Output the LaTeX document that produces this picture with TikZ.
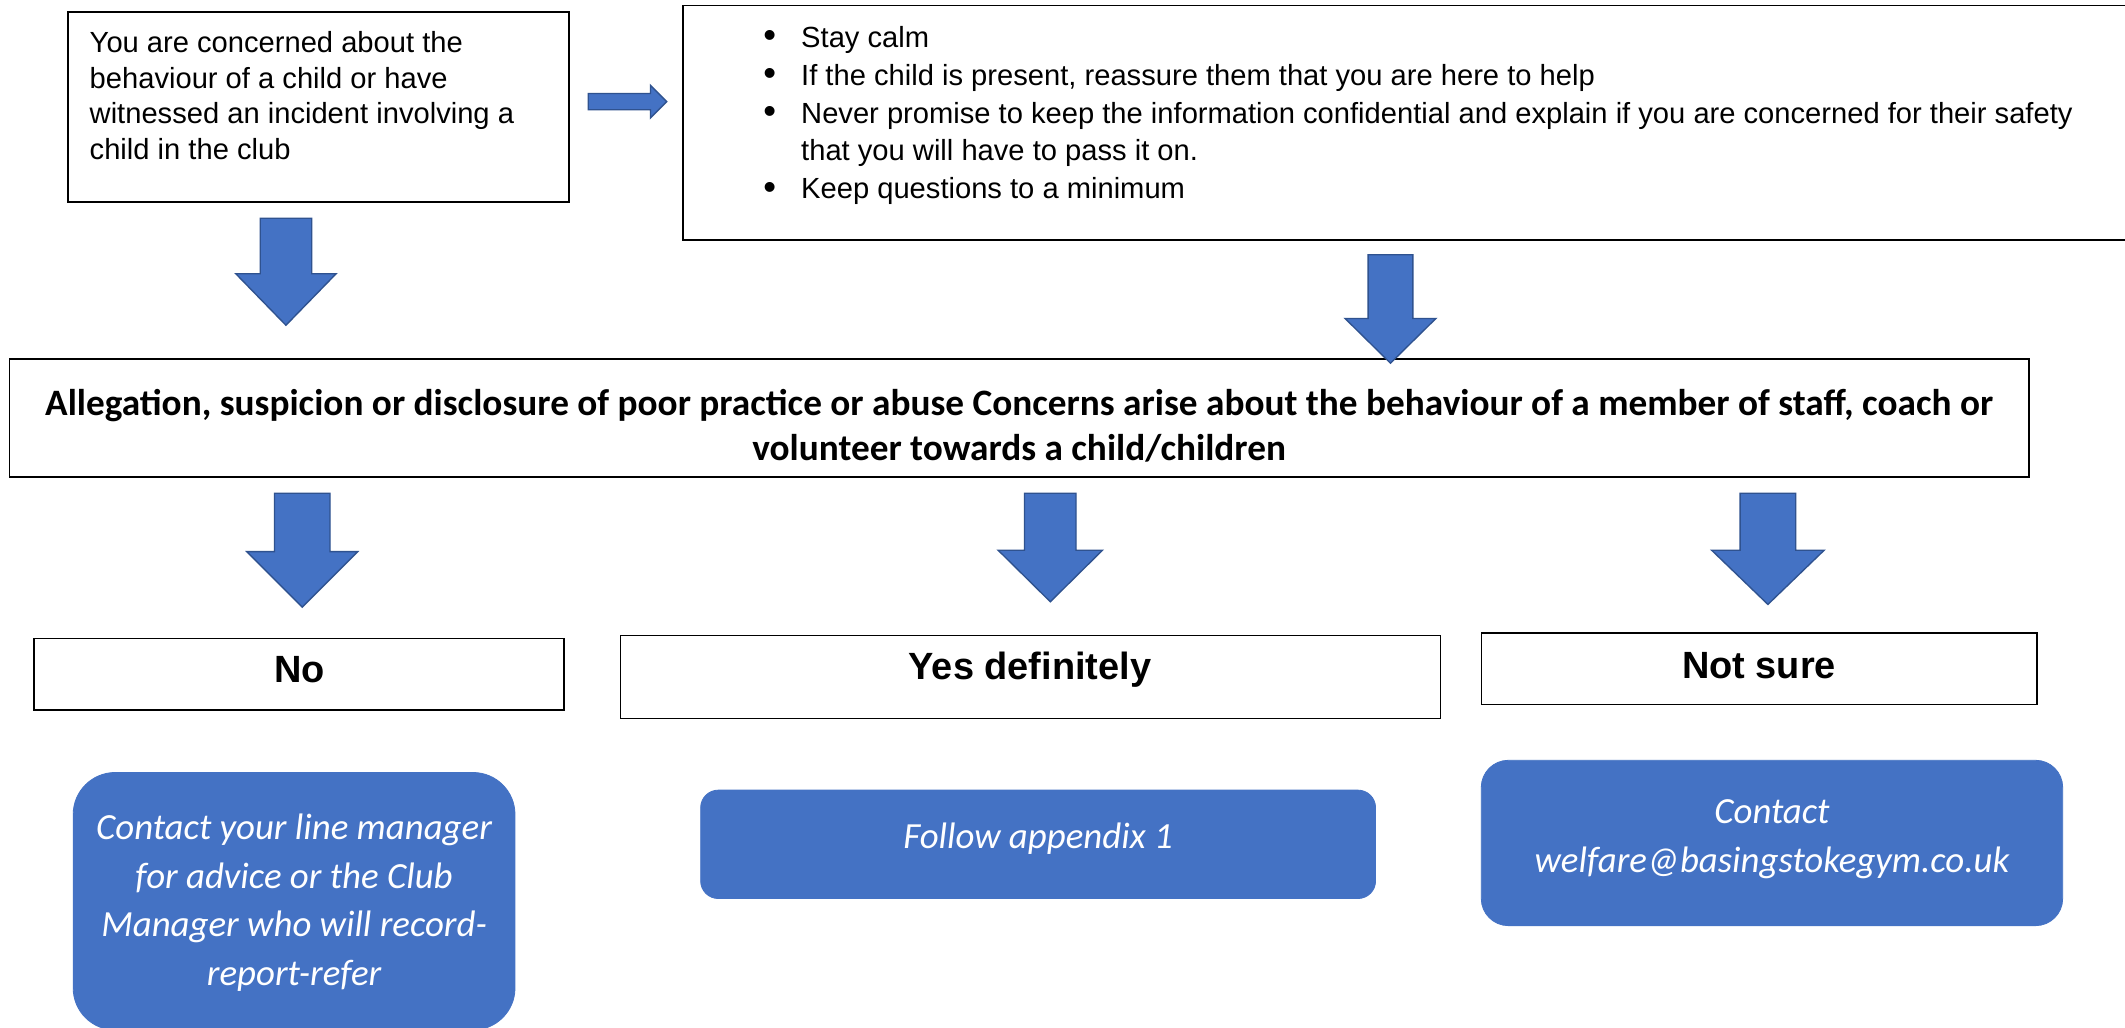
\documentclass[tikz,border=0pt]{standalone}
\usepackage{fontspec}
\setmainfont{Liberation Sans}
\newfontfamily\calib{Carlito}
\usetikzlibrary{calc}
\definecolor{wblue}{HTML}{4472C4}
\definecolor{wedge}{HTML}{2F528F}
\tikzset{
  box/.style={draw=black, line width=1.1pt, fill=white, inner sep=0pt, rectangle},
  bluebox/.style={fill=wblue, draw=wblue, line width=0.6pt, rounded corners=#1, inner sep=0pt, rectangle},
  blockarrow/.style={fill=wblue, draw=wedge, line width=1pt, line join=miter},
  arialtext/.style={inner sep=0pt, font=\fontsize{21.5}{26.3}\selectfont, align=left, anchor=north west},
  bullettext/.style={inner sep=0pt, font=\fontsize{21.5}{28}\selectfont, align=left, anchor=north west},
  boldtext/.style={inner sep=0pt, font=\calib\bfseries\fontsize{27.5}{33}\selectfont, align=center},
  choicetext/.style={inner sep=0pt, font=\bfseries\fontsize{28}{30}\selectfont},
  whitetext/.style={inner sep=0pt, text=white, font=\calib\itshape\fontsize{27.2}{36}\selectfont, align=center}
}
\newcommand\blockdown[7]{%
  \coordinate (#1) at (#2,#3);
  \draw[blockarrow] ($(#1)+(-#6,0)$) -- ($(#1)+(-#6,{#4-#3})$) -- ($(#1)+(-#7,{#4-#3})$)
    -- ($(#1)+(0,{#5-#3})$) -- ($(#1)+(#7,{#4-#3})$) -- ($(#1)+(#6,{#4-#3})$)
    -- ($(#1)+(#6,0)$) -- cycle;}
\newcommand\bul{\makebox[30pt][l]{\hspace*{2pt}\raisebox{-0.5pt}{\scalebox{1.25}{\textbullet}}}}
\begin{document}
\begin{tikzpicture}[x=1pt,y=-1pt]
\useasboundingbox (0,0) rectangle (1568,758);
\fill[white] (0,0) rectangle (1568,758);

% top-left box
\node[box, minimum width=370pt, minimum height=140pt] (b1) at (235,79) {};
\node[arialtext] (t1) at (66,23) {You are concerned about the\\behaviour of a child or have\\witnessed an incident involving a\\child in the club};

% bullet box
\node[box, minimum width=1071pt, minimum height=173pt] (b2) at (1039.5,90.5) {};
\node[bullettext] (t2) at (561,19) {\bul Stay calm\\
\bul If the child is present, reassure them that you are here to help\\
\bul Never promise to keep the information confidential and explain if you are concerned for their safety\\
\hspace*{30pt}that you will have to pass it on.\\
\bul Keep questions to a minimum};

% right arrow
\coordinate (ra) at (434,75);
\draw[blockarrow] ($(ra)+(0,-6)$) -- ($(ra)+(46,-6)$) -- ($(ra)+(46,-12)$) -- ($(ra)+(58,0)$)
  -- ($(ra)+(46,12)$) -- ($(ra)+(46,6)$) -- ($(ra)+(0,6)$) -- cycle;

% central box
\node[box, minimum width=1490pt, minimum height=87pt] (b3) at (752,308.5) {};
\node[boldtext] (t3) at (752,314) {Allegation, suspicion or disclosure of poor practice or abuse Concerns arise about the behaviour of a member of staff, coach or\\volunteer towards a child/children};

% arrows
\blockdown{a1}{211}{161}{202}{240}{19}{37}
\blockdown{a2}{1026}{188}{235}{268}{16.5}{33.5}
\blockdown{a3}{223}{364}{407}{448}{20.5}{41}
\blockdown{a4}{775}{364}{406}{444}{19}{38.5}
\blockdown{a5}{1304.5}{364}{406}{446}{20.5}{41.5}

% choice boxes
\node[box, minimum width=391pt, minimum height=53pt] (no) at (220.5,497.5) {};
\node[choicetext] (tno) at (221,494) {No};
\node[box, minimum width=605pt, minimum height=61pt] (yes) at (760.5,499.5) {};
\node[choicetext] (tyes) at (760,494) {Yes definitely};
\node[box, minimum width=410pt, minimum height=53pt] (ns) at (1298,493.5) {};
\node[choicetext] (tns) at (1298,491) {Not sure};

% blue outcome boxes
\node[bluebox=31pt, minimum width=326pt, minimum height=190pt] (oa) at (217,665) {};
\node[whitetext] (toa) at (217,666) {Contact your line manager\\for advice or the Club\\Manager who will record-\\report-refer};
\node[bluebox=13pt, minimum width=498pt, minimum height=80pt] (ob) at (766,623) {};
\node[whitetext] (tob) at (766,619) {Follow appendix 1};
\node[bluebox=20pt, minimum width=429pt, minimum height=122pt] (oc) at (1307.5,622) {};
\node[whitetext] (toc) at (1307.5,619) {Contact\\welfare@basingstokegym.co.uk};
\end{tikzpicture}
\end{document}
